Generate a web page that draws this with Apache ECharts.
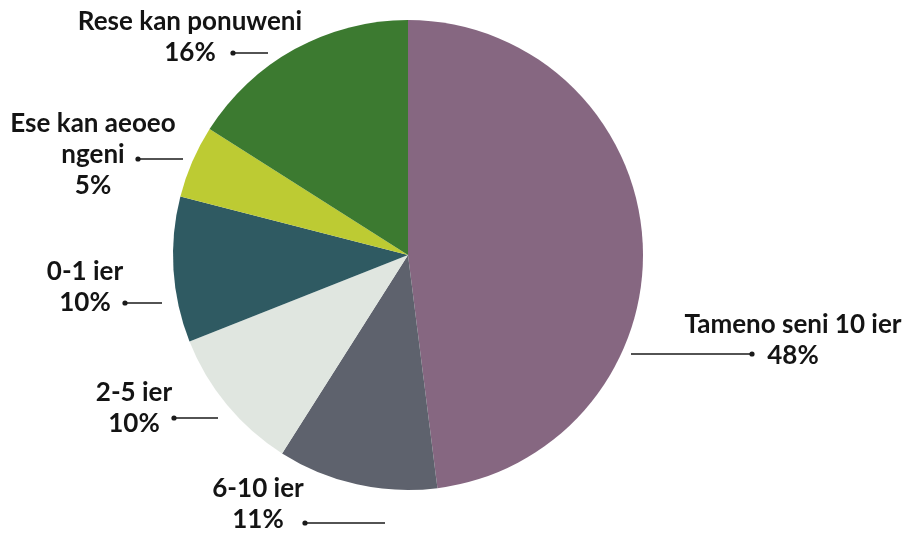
<!DOCTYPE html>
<html>
<head>
<meta charset="utf-8">
<script src="https://cdn.jsdelivr.net/npm/echarts@6/dist/echarts.min.js"></script>
<style>
  html, body { margin: 0; padding: 0; background: #fff; }
  #mainBox { width: 907px; height: 533px; }
</style>
</head>
<body>
<div id="mainBox"></div>
<script>
// data
var names = ['Tameno seni 10 ier', '6-10 ier', '2-5 ier', '0-1 ier', 'Ese kan aeoeo\nngeni', 'Rese kan ponuweni'];
var values = [48, 11, 10, 10, 5, 16];
var colors = ['#866781', '#5e626d', '#e0e6e0', '#2f5a62', '#bdcb33', '#3c7a30'];

// label placement (text centre, line from pie side to dot)
var labelPos = [
  { x: 793, y: 340, line: [[631, 354], [752, 354]] },
  { x: 258, y: 504, line: [[385, 523], [305, 523]] },
  { x: 134, y: 408, line: [[218, 418], [174, 418]] },
  { x: 85,  y: 287, line: [[162, 303], [125, 303]] },
  { x: 93,  y: 155, line: [[183, 159], [138, 159]] },
  { x: 190, y: 37,  line: [[268, 53], [233, 53]] }
];

var myChart = echarts.init(document.getElementById('mainBox'));

var pieData = [];
for (var i = 0; i < names.length; i++) {
  pieData.push({ name: names[i], value: values[i], itemStyle: { color: colors[i] } });
}

var dots = labelPos.map(function (p) {
  var d = p.line[1];
  return { type: 'circle', shape: { cx: d[0], cy: d[1], r: 2.6 }, style: { fill: '#1a1a1a' }, z: 100 };
});

var option = {
  backgroundColor: '#ffffff',
  animation: false,
  graphic: dots,
  series: [{
    type: 'pie',
    center: [408, 255],
    radius: [0, 235],
    startAngle: 90,
    clockwise: true,
    data: pieData,
    label: {
      show: true,
      formatter: function (p) { return p.name + '\n' + p.value + '%'; },
      fontFamily: 'Lato',
      fontWeight: 'bold',
      fontSize: 26,
      lineHeight: 31,
      color: '#141414',
      align: 'center',
      overflow: 'none',
      width: 300
    },
    labelLine: {
      show: true,
      lineStyle: { color: '#1a1a1a', width: 1.5 }
    },
    labelLayout: function (params) {
      var p = labelPos[params.dataIndex];
      return {
        x: p.x,
        y: p.y,
        align: 'center',
        verticalAlign: 'middle',
        labelLinePoints: [p.line[0], p.line[0], p.line[1]]
      };
    }
  }]
};

myChart.setOption(option);
</script>
</body>
</html>
